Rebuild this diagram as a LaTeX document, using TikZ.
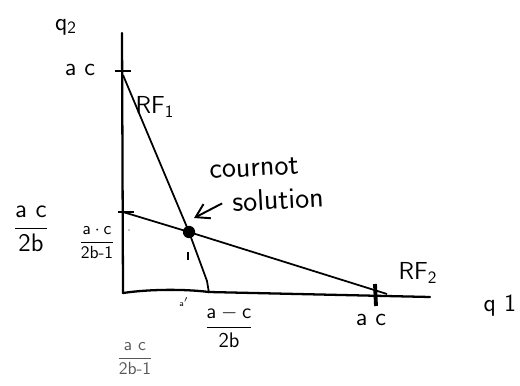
\documentclass[tikz,border=0pt]{standalone}
\usepackage{amsmath}
\usetikzlibrary{arrows.meta,positioning,calc}
\tikzset{
  axisline/.style={line width=1.3pt, line cap=round},
  resp/.style={line width=1pt, line join=round},
  tickmark/.style={line width=1.1pt},
  lbl/.style={font=\sffamily\fontsize{14}{15}\selectfont, inner sep=1pt},
  biglbl/.style={font=\sffamily\fontsize{17}{18}\selectfont, inner sep=0pt},
  fraclbl/.style={font=\sffamily\fontsize{12}{13}\selectfont, inner sep=1pt},
  smallfrac/.style={font=\sffamily\fontsize{10}{11}\selectfont, inner sep=1pt},
  eqdot/.style={circle, fill=black, inner sep=0pt, minimum size=7pt},
  pointer/.style={-{Straight Barb[length=2.6mm,width=3.2mm]}, line width=1.1pt}
}
\newcommand{\hfrac}[2]{$\displaystyle\frac{\mathsf{#1}}{\mathsf{#2}}$}

\begin{document}
\begin{tikzpicture}[x=0.02cm, y=-0.02cm]
  \useasboundingbox (0,0) rectangle (520,385);

  % --- axes ---
  \coordinate (origin) at (123,293);
  \coordinate (ytop) at (122,33);
  \coordinate (xend) at (430,297);
  \draw[axisline] (origin) -- (ytop);
  \draw[axisline] (origin) .. controls (150,289) and (185,289) .. (209,292) -- (xend);

  % --- intercept ticks ---
  \draw[tickmark] (115,71) -- (131,71);
  \draw[tickmark] (118,212) -- (134,212);
  \draw[line width=2.2pt] (375,284) -- (376,306);

  % --- reaction functions ---
  \node[eqdot] (eq) at (189,232) {};
  \coordinate (rf1top) at (123,75);
  \coordinate (rf1bot) at (209,293);
  \coordinate (rf2top) at (123,212);
  \coordinate (rf2bot) at (387,294);
  \draw[resp] (rf1top) -- (eq.center) -- (207,281) -- (rf1bot);
  \draw[resp] (rf2top) -- (eq.center) -- (rf2bot);

  % --- small marks ---
  \fill (129,230) circle (0.7);
  \draw[line width=0.8pt] (188,252) -- (188,260);

  % --- axis labels ---
  \node[lbl] (q2lbl) at (66,27) {q\textsubscript{2}};
  \node[lbl] (q1lbl) at (500,306) {q\,\,1};
  \node[lbl] (acy) at (80,70) {a c};
  \node[lbl] (acx) at (371,320) {a c};
  \node[lbl] (rf1lbl) at (155,107) {RF\textsubscript{1}};
  \node[lbl] (rf2lbl) at (418,273) {RF\textsubscript{2}};

  % --- fractions ---
  \node[fraclbl, font=\sffamily\fontsize{15}{16}\selectfont] (fracy) at (31,229) {\hfrac{a\ c}{2b}};
  \node[smallfrac] (fracyy) at (97,243) {\hfrac{a\cdot c}{2b\text{-}1}};
  \node[fraclbl] (fracx) at (229,327) {\hfrac{a-c}{2b}};
  \node[smallfrac, black!65] (fracxx) at (135,359) {\hfrac{a\ c}{2b\text{-}1}};
  \node[font=\sffamily\tiny, inner sep=0pt] (aprime) at (184,302) {a$'$};

  % --- cournot label ---
  \node[biglbl, rotate=3] (cournot) at (254,168) {cournot};
  \node[biglbl, rotate=3] (solution) at (278,199) {solution};
  \coordinate (tip) at (194,218);
  \draw[pointer] ($(solution.west)+(-10,2)$) -- (tip);

\end{tikzpicture}
\end{document}
